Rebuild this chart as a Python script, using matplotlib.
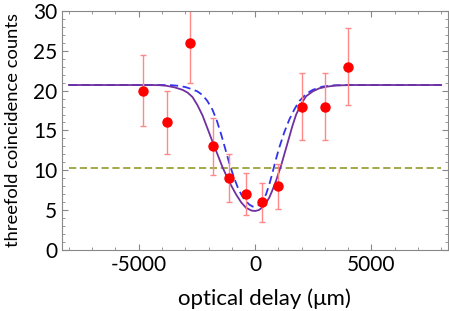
import matplotlib
matplotlib.use("Agg")
import matplotlib.pyplot as plt
from matplotlib.ticker import MultipleLocator

plt.rcParams['font.family'] = ['Lato', 'DejaVu Sans']
plt.rcParams['axes.unicode_minus'] = False

# measured points
delay = [-4800, -3800, -2800, -1800, -1100, -400, 300, 1000, 2000, 3000, 4000]
counts = [20, 16, 26, 13, 9, 7, 6, 8, 18, 18, 23]
err = [4.5, 4.0, 5.1, 3.6, 3.0, 2.65, 2.45, 2.8, 4.25, 4.25, 4.8]

# fit curve (solid)
fit_x = [-8000, -4500, -4100, -3800, -3450, -3120, -2900, -2690, -2480, -2260,
         -2050, -1830, -1600, -1400, -1100, -820, -600, -390, -150, 0, 150,
         300, 450, 616, 760, 905, 1120, 1405, 1600, 1767, 2000, 2198, 2480,
         2772, 3100, 3490, 4200, 8000]
fit_y = [20.7, 20.7, 20.68, 20.6, 20.4, 20.1, 19.75, 19.2, 18.2, 16.9,
         15.3, 13.6, 11.9, 10.4, 8.5, 7.0, 6.0, 5.3, 4.95, 4.9, 5.0,
         5.3, 5.8, 6.6, 7.6, 8.7, 10.6, 13.5, 15.5, 17.0, 18.4, 19.3, 19.9,
         20.3, 20.5, 20.65, 20.7, 20.7]

# theory curve (dashed)
th_x = [-8000, -4000, -3600, -3300, -3000, -2690, -2480, -2260, -2050, -1830,
        -1650, -1465, -1290, -1108, -930, -750, -600, -450, -245, -100, 40,
        250, 474, 620, 760, 900, 1047, 1260, 1478, 1700, 1910, 2200, 2483,
        2900, 3345, 4000, 8000]
th_y = [20.7, 20.7, 20.68, 20.6, 20.45, 20.15, 19.9, 19.45, 18.7, 17.6,
        16.3, 14.6, 12.8, 10.9, 9.3, 7.9, 7.0, 6.3, 5.7, 5.45, 5.45,
        5.8, 7.0, 8.3, 9.8, 11.4, 12.9, 14.8, 16.4, 17.7, 18.7, 19.6, 20.1,
        20.5, 20.65, 20.7, 20.7]

# classical limit
lim_x = [-8000, 8000]
lim_y = [10.35, 10.35]

fig = plt.figure(figsize=(4.49, 3.11), dpi=100)
ax = fig.add_axes([0.138, 0.196, 0.859, 0.769])

ax.plot(lim_x, lim_y, color='#9aa33a', lw=1.3, dashes=(4, 2))
ax.plot(th_x, th_y, color='#3333ee', lw=1.3, dashes=(4.5, 2.5))
ax.plot(fit_x, fit_y, color='#7030a0', lw=1.3)
ax.errorbar(delay, counts, yerr=err, fmt='o', color='#ff0000', ms=6.5,
            ecolor='#ff8888', elinewidth=1, capsize=2, capthick=1)

ax.set_xlim(-8300, 8280)
ax.set_ylim(0, 30)
ax.xaxis.set_major_locator(MultipleLocator(5000))
ax.xaxis.set_minor_locator(MultipleLocator(1000))
ax.yaxis.set_major_locator(MultipleLocator(5))
ax.yaxis.set_minor_locator(MultipleLocator(1))
ax.tick_params(which='both', direction='in', top=True, right=True,
               color='#888888', labelsize=15)
ax.tick_params(which='major', length=4)
ax.tick_params(which='minor', length=2.5)
for s in ax.spines.values():
    s.set_color('#888888')

ax.set_xlabel('optical delay (μm)', fontsize=16)
ax.xaxis.set_label_coords(0.525, -0.16)
ax.set_ylabel('threefold coincidence counts', fontsize=13.2)
ax.yaxis.set_label_coords(-0.105, 0.5)

fig.savefig('out.png', dpi=100)
